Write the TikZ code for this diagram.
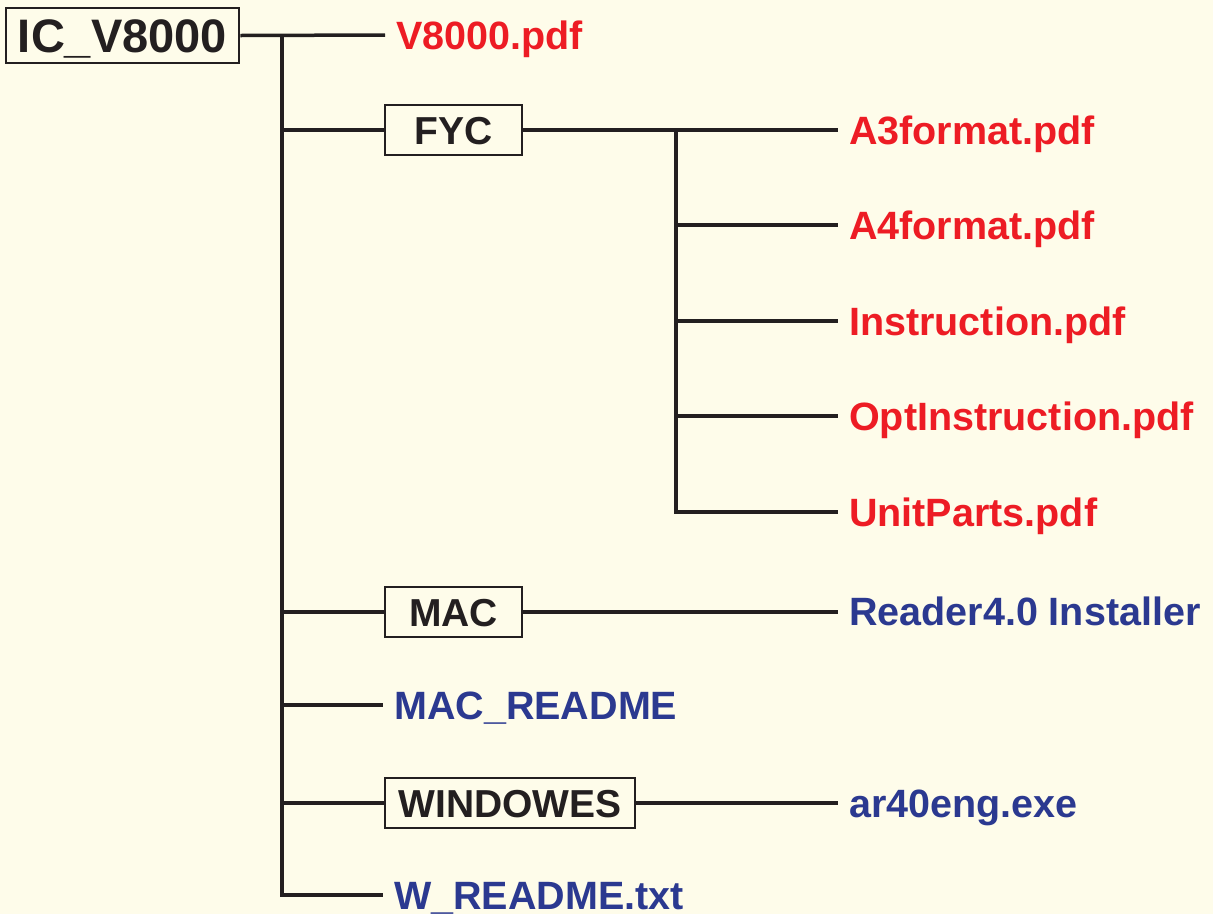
\documentclass[tikz,border=0pt]{standalone}
\usepackage{fontspec}
\setmainfont{Liberation Sans}
\definecolor{bg}{HTML}{FEFCEA}
\definecolor{ink}{HTML}{231F20}
\definecolor{fred}{HTML}{ED1C24}
\definecolor{fblue}{HTML}{2B3990}
\tikzset{
  conn/.style={draw=ink, line width=3.5pt},
  folder/.style={draw=ink, line width=2.5pt, fill=bg, inner sep=0pt, minimum height=50pt, text=ink,
     font=\fontsize{39}{46}\selectfont\bfseries, text height=29pt, text depth=0pt},
  leaf/.style={anchor=west, inner ysep=0pt, inner xsep=11pt, text height=36pt, text depth=7pt,
     font=\fontsize{39.5}{46}\selectfont\bfseries},
  redleaf/.style={leaf, text=fred},
  blueleaf/.style={leaf, text=fblue}
}
\begin{document}
\begin{tikzpicture}[x=1pt,y=-1pt]
\fill[bg] (0,0) rectangle (1213,914);
\useasboundingbox (0,0) rectangle (1213,914);
% folders
\node[folder, line width=2.8pt, minimum width=233pt, minimum height=55pt, font=\fontsize{47}{54}\selectfont\bfseries, text height=34pt] (root) at (122.5,35.5) {IC\_V8000};
\node[folder, minimum width=137pt] (fyc) at (453.5,130) {FYC};
\node[folder, minimum width=137pt] (mac) at (453.5,612) {MAC};
\node[folder, minimum width=250pt] (win) at (510,803) {WINDOWES};
% leaves
\node[redleaf] (v8000) at (385,35) {V8000.pdf};
\node[redleaf] (a3) at (838,130) {A3format.pdf};
\node[redleaf] (a4) at (838,225) {A4format.pdf};
\node[redleaf] (instr) at (838,321) {Instruction.pdf};
\node[redleaf] (opt) at (838,416) {OptInstruction.pdf};
\node[redleaf] (unit) at (838,512) {UnitParts.pdf};
\node[blueleaf] (reader) at (838,611) {Reader4.0 Installer};
\node[blueleaf] (macread) at (383,705) {MAC\_README};
\node[blueleaf] (ar) at (838,803) {ar40eng.exe};
\node[blueleaf] (wread) at (383,895) {W\_README.txt};
% junctions
\coordinate (j0) at (282,35);
\coordinate (j1) at (676,130);
% connectors
\draw[conn] (root.east) -- (v8000.west);
\draw[conn] (j0) |- (wread.west);
\draw[conn] (j0 |- fyc.west) -- (fyc.west);
\draw[conn] (j0 |- mac.west) -- (mac.west);
\draw[conn] (j0 |- macread.west) -- (macread.west);
\draw[conn] (j0 |- win.west) -- (win.west);
\draw[conn] (fyc.east) -- (a3.west);
\draw[conn] (j1) |- (unit.west);
\draw[conn] (j1 |- a4.west) -- (a4.west);
\draw[conn] (j1 |- instr.west) -- (instr.west);
\draw[conn] (j1 |- opt.west) -- (opt.west);
\draw[conn] (mac.east) -- (mac.east -| reader.west);
\draw[conn] (win.east) -- (ar.west);
\end{tikzpicture}
\end{document}
